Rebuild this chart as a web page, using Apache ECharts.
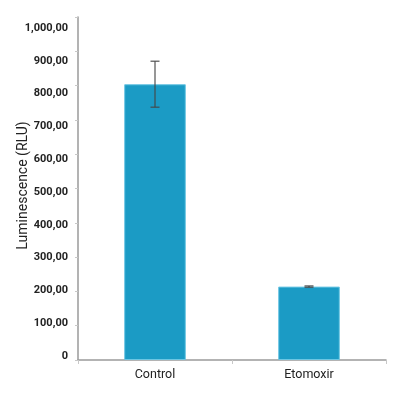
<!DOCTYPE html>
<html>
<head>
<meta charset="utf-8">
<script src="https://cdn.jsdelivr.net/npm/echarts@6/dist/echarts.min.js"></script>
<style>html,body{margin:0;padding:0;background:#fff}#c{width:400px;height:400px}</style>
</head>
<body>
<div id="c"></div>
<script>
const categories = ['Control', 'Etomoxir'];
const means = [804, 214];
const errors = [67, 2];
const yTicks = [0, 100, 200, 300, 400, 500, 600, 700, 800, 900, 1000];
const yTitle = 'Luminescence (RLU)';

function fmt(v) {
  if (v === 0) return '0';
  const s = Math.round(v).toString().replace(/\B(?=(\d{3})+(?!\d))/g, ',');
  return s + ',00';
}

const chart = echarts.init(document.getElementById('c'));
const axisColor = '#9a9a9a';
chart.setOption({
  animation: false,
  grid: { left: 78, right: 14, top: 17, bottom: 40, containLabel: false },
  xAxis: {
    type: 'category',
    data: categories,
    axisLine: { lineStyle: { color: axisColor, width: 1.5 } },
    axisTick: { show: true, alignWithLabel: false, length: 4, lineStyle: { color: '#c8c8c8' } },
    axisLabel: { color: '#222', fontFamily: 'Roboto', fontSize: 12.5, margin: 8 }
  },
  yAxis: [{
    type: 'value', min: 0, max: 1000, interval: 100,
    name: yTitle, nameLocation: 'middle', nameGap: 48,
    nameTextStyle: { color: '#222', fontFamily: 'Roboto', fontSize: 14, padding: [0, 0, 0, 6] },
    axisLine: { show: true, lineStyle: { color: axisColor, width: 1.5 } },
    axisTick: { show: true, length: 3, lineStyle: { color: '#c8c8c8' } },
    axisLabel: { show: false },
    splitLine: { show: false }
  }, {
    type: 'value', min: -12.2, max: 1033.5, position: 'left',
    axisLine: { show: false }, axisTick: { show: false }, splitLine: { show: false },
    axisLabel: {
      show: true, customValues: yTicks, formatter: fmt, margin: 10,
      color: '#222', fontFamily: 'Roboto', fontSize: 11, fontWeight: 'bold'
    }
  }],
  series: [{
    type: 'bar',
    data: means,
    barWidth: '40%',
    itemStyle: { color: '#1b9bc5', borderColor: '#6cc6e3', borderWidth: 1 },
    z: 2
  }, {
    type: 'custom',
    data: means.map((m, i) => [i, m - errors[i], m + errors[i]]),
    z: 5,
    renderItem: function (params, api) {
      const lo = api.coord([api.value(0), api.value(1)]);
      const hi = api.coord([api.value(0), api.value(2)]);
      const hw = 4.5;
      const style = { stroke: 'rgba(70,70,70,0.75)', lineWidth: 1.5 };
      return {
        type: 'group',
        children: [
          { type: 'line', shape: { x1: lo[0], y1: lo[1], x2: hi[0], y2: hi[1] }, style: style },
          { type: 'line', shape: { x1: hi[0] - hw, y1: hi[1], x2: hi[0] + hw, y2: hi[1] }, style: style },
          { type: 'line', shape: { x1: lo[0] - hw, y1: lo[1], x2: lo[0] + hw, y2: lo[1] }, style: style }
        ]
      };
    }
  }]
});
</script>
</body>
</html>
